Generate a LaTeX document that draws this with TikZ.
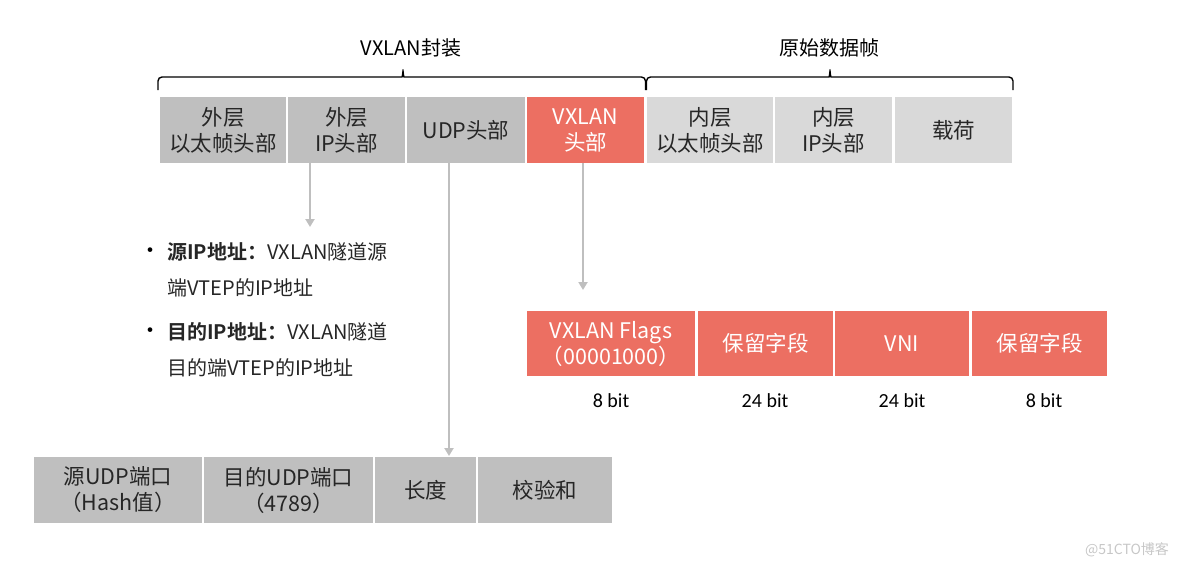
\documentclass[tikz,border=0pt]{standalone}
\usepackage{fontspec}
\setmainfont{Noto Sans CJK SC}[BoldFont={Noto Sans CJK SC Bold}]
\newfontfamily\bitfont{Carlito}
\usetikzlibrary{arrows.meta,positioning}

\definecolor{hdrgray}{HTML}{BFBFBF}
\definecolor{innergray}{HTML}{D9D9D9}
\definecolor{vxred}{HTML}{EC6F62}
\definecolor{txtdark}{HTML}{262626}

\begin{document}
\begin{tikzpicture}[x=1pt, y=-1pt,
  field/.style={rectangle, inner sep=0pt, align=center, minimum height=66,
    font=\fontsize{21.5}{26}\selectfont, text=txtdark},
  outerf/.style={field, fill=hdrgray},
  innerf/.style={field, fill=innergray},
  redf/.style={field, fill=vxred, text=white},
  bitlbl/.style={font=\bitfont\fontsize{20}{20}\selectfont, text=black},
  title/.style={font=\fontsize{20}{20}\selectfont, text=black},
  bullettext/.style={inner sep=0pt, align=left, anchor=north west,
    font=\fontsize{20}{36}\selectfont, text=txtdark},
  flowarrow/.style={-{Triangle[length=8pt,width=9pt]}, line width=2pt, hdrgray},
  bracket/.style={line width=1.4pt, black, rounded corners=4pt}]
\useasboundingbox (0,0) rectangle (1184,566);

% VXLAN encapsulated frame
\node[outerf, minimum width=126] (outereth) at (223,130) {外层\\以太帧头部};
\node[outerf, minimum width=117] (outerip) at (346.5,130) {外层\\IP头部};
\node[outerf, minimum width=118] (udphdr) at (466,130) {UDP头部};
\node[redf, minimum width=117] (vxhdr) at (585.5,130) {VXLAN\\头部};
\node[innerf, minimum width=126] (innereth) at (710,130) {内层\\以太帧头部};
\node[innerf, minimum width=117] (innerip) at (833.5,130) {内层\\IP头部};
\node[innerf, minimum width=117] (payload) at (953.5,130) {载荷};

% Brackets
\draw[bracket] (158,90) |- (398,77) to[out=0,in=-90] (403,67)
  to[out=-90,in=180] (408,77) -| (645.5,90);
\draw[bracket] (646.5,90) |- (825,77) to[out=0,in=-90] (830,67)
  to[out=-90,in=180] (835,77) -| (1013,90);
\node[title] (encap) at (411,48) {VXLAN封装};
\node[title] (orig) at (829,48) {原始数据帧};

% Outer IP header
\coordinate (ipdrop) at (310,227);
\draw[flowarrow] (ipdrop |- outerip.south) -- (ipdrop);
\node (dot1) at (150,253) {\fontsize{22}{22}\selectfont •};
\node[bullettext] (srcip) at (167,242) {\textbf{源IP地址：}VXLAN隧道源\\端VTEP的IP地址};
\node (dot2) at (150,333) {\fontsize{22}{22}\selectfont •};
\node[bullettext] (dstip) at (167,322) {\textbf{目的IP地址：}VXLAN隧道\\目的端VTEP的IP地址};

% VXLAN header
\coordinate (vxdrop) at (583,290);
\draw[flowarrow] (vxdrop |- vxhdr.south) -- (vxdrop);
\node[redf, minimum width=168, minimum height=65] (flags) at (611,343.5) {VXLAN Flags\\（00001000）};
\node[redf, minimum width=135, minimum height=65] (resv1) at (765.5,343.5) {保留字段};
\node[redf, minimum width=134, minimum height=65] (vni) at (902,343.5) {VNI};
\node[redf, minimum width=135, minimum height=65] (resv2) at (1039.5,343.5) {保留字段};
\node[bitlbl] (bflags) at (611,401) {8 bit};
\node[bitlbl] (bresv1) at (765,401) {24 bit};
\node[bitlbl] (bvni) at (902,401) {24 bit};
\node[bitlbl] (bresv2) at (1044,401) {8 bit};

% UDP header
\coordinate (udpdrop) at (449,456);
\draw[flowarrow] (udpdrop |- udphdr.south) -- (udpdrop);
\node[outerf, minimum width=168] (srcport) at (118,490) {源UDP端口\\（Hash值）};
\node[outerf, minimum width=169] (dstport) at (288.5,490) {目的UDP端口\\（4789）};
\node[outerf, minimum width=101] (udplen) at (425.5,490) {长度};
\node[outerf, minimum width=134] (csum) at (545,490) {校验和};

\node[font=\fontsize{14}{14}\selectfont, text=black!22] (wmark) at (1127,550) {@51CTO博客};
\end{tikzpicture}
\end{document}
